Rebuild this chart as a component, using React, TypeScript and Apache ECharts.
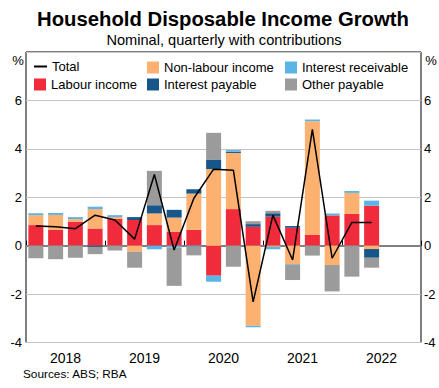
import React, { useEffect, useRef } from "react";
import * as echarts from "echarts";

const years = ["2018", "2019", "2020", "2021", "2022"];
const quarterNames = ["Q1", "Q2", "Q3", "Q4"];
const quarters = years.flatMap((y) => quarterNames.map((q) => `${y}-${q}`));

const labour = [0.85, 0.65, 0.99, 0.71, 1.10, 1.06, 0.85, 0.58, 0.65, -1.24, 1.51, 0.78, 1.20, 0.74, 0.44, 1.25, 1.31, 1.65];
const nonLabour = [0.41, 0.62, 0.11, 0.80, 0.08, -0.25, 0.48, 0.58, 1.50, 3.16, 2.32, -3.31, -0.05, -0.76, 4.70, -0.80, 0.87, -0.14];
const interestPayable = [0, 0, 0, -0.05, 0, 0.12, 0.34, 0.32, 0.18, 0.40, 0.05, 0.11, 0.14, 0.07, 0, 0, 0, -0.36];
const interestReceivable = [0.08, 0.08, 0.08, 0.10, 0.08, 0, -0.15, -0.07, -0.04, -0.25, 0.07, -0.06, -0.10, -0.03, 0.07, 0.08, 0.08, 0.21];
const otherPayable = [-0.52, -0.56, -0.50, -0.30, -0.20, -0.66, 1.42, -1.59, -0.36, 1.10, -0.87, 0.12, 0.10, -0.63, -0.41, -1.09, -1.28, -0.41];
const total = [0.81, 0.78, 0.70, 1.26, 1.06, 0.27, 2.94, -0.18, 1.96, 3.16, 3.12, -2.32, 1.26, -0.59, 4.80, -0.52, 0.96, 0.96];

const FONT = "'Liberation Sans', Arial, sans-serif";
const COLORS = {
  labour: "#EF2B3C",
  nonLabour: "#FDB171",
  payable: "#175688",
  receivable: "#5AB4E5",
  other: "#9B9B9B",
};

export default function App() {
  const ref = useRef<HTMLDivElement>(null);
  useEffect(() => {
    if (!ref.current) return;
    const chart = echarts.init(ref.current, null, { renderer: "svg" });
    const barBase = {
      type: "bar",
      stack: "c",
      barWidth: 15,
      xAxisIndex: 0,
      yAxisIndex: 0,
    };
    const legendText = { fontFamily: FONT, fontSize: 13, color: "#000" };
    const mkLegend = (name: string, left: number, top: number, isLine = false) => ({
      data: [{ name, icon: "rect" }],
      left,
      top,
      padding: 0,
      itemWidth: isLine ? 13 : 12,
      itemHeight: isLine ? 2 : 12,
      itemGap: 0,
      textStyle: legendText,
      selectedMode: false,
    });
    chart.setOption({
      animation: false,
      backgroundColor: "#fff",
      grid: {
        left: 26,
        right: 18,
        top: 52,
        bottom: 45.5,
        show: true,
        borderColor: "#000",
        borderWidth: 1,
      },
      legend: [
        mkLegend("Total", 34, 60, true),
        mkLegend("Non-labour income", 147, 61),
        mkLegend("Interest receivable", 285, 61),
        mkLegend("Labour income", 34, 78),
        mkLegend("Interest payable", 147, 78),
        mkLegend("Other payable", 285, 78),
      ],
      xAxis: [
        {
          type: "category",
          data: quarters,
          boundaryGap: true,
          axisLine: { show: false },
          axisTick: {
            show: true,
            inside: true,
            length: 5,
            interval: (i: number) => i % 4 === 0,
            lineStyle: { color: "#000" },
          },
          axisLabel: { show: false },
          splitLine: { show: false },
        },
        {
          type: "category",
          data: years,
          position: "bottom",
          axisLine: { show: false },
          axisTick: { show: false },
          axisLabel: { show: true, margin: 8, fontFamily: FONT, fontSize: 14, color: "#000" },
          splitLine: { show: false },
        },
      ],
      yAxis: [
        {
          type: "value",
          min: -4,
          max: 8,
          interval: 2,
          position: "left",
          axisLine: { show: false },
          axisTick: { show: false },
          axisLabel: {
            margin: 4,
            fontFamily: FONT,
            fontSize: 13,
            color: "#000",
            formatter: (v: number) => (v === 8 ? "" : String(v)),
          },
          splitLine: { show: true, lineStyle: { color: "#c4c4c4", width: 1 } },
        },
        {
          type: "value",
          min: -4,
          max: 8,
          interval: 2,
          position: "right",
          axisLine: { show: false },
          axisTick: { show: false },
          axisLabel: {
            margin: 3,
            fontFamily: FONT,
            fontSize: 13,
            color: "#000",
            formatter: (v: number) => (v === 8 ? "" : String(v)),
          },
          splitLine: { show: false },
        },
      ],
      series: [
        { ...barBase, name: "Labour income", data: labour, itemStyle: { color: COLORS.labour } },
        { ...barBase, name: "Non-labour income", data: nonLabour, itemStyle: { color: COLORS.nonLabour } },
        { ...barBase, name: "Interest payable", data: interestPayable, itemStyle: { color: COLORS.payable } },
        { ...barBase, name: "Interest receivable", data: interestReceivable, itemStyle: { color: COLORS.receivable } },
        { ...barBase, name: "Other payable", data: otherPayable, itemStyle: { color: COLORS.other } },
        {
          type: "line",
          name: "Total",
          data: total,
          xAxisIndex: 0,
          yAxisIndex: 0,
          symbol: "none",
          lineStyle: { color: "#000", width: 1.5 },
          itemStyle: { color: "#000" },
          z: 5,
          markLine: {
            silent: true,
            symbol: "none",
            label: { show: false },
            lineStyle: { color: "#808080", width: 2, type: "solid" },
            data: [{ yAxis: 0 }],
            z: 1,
          },
        },
      ],
      graphic: [
        {
          type: "text",
          x: 223,
          y: 19,
          style: {
            text: "Household Disposable Income Growth",
            font: `bold 20.3px ${FONT}`,
            fill: "#000",
            textAlign: "center",
            textVerticalAlign: "middle",
          },
        },
        {
          type: "text",
          x: 224,
          y: 40,
          style: {
            text: "Nominal, quarterly with contributions",
            font: `14.6px ${FONT}`,
            fill: "#000",
            textAlign: "center",
            textVerticalAlign: "middle",
          },
        },
        {
          type: "text",
          x: 18,
          y: 60,
          style: { text: "%", font: `13px ${FONT}`, fill: "#000", textAlign: "center", textVerticalAlign: "middle" },
        },
        {
          type: "text",
          x: 431,
          y: 60,
          style: { text: "%", font: `13px ${FONT}`, fill: "#000", textAlign: "center", textVerticalAlign: "middle" },
        },
        {
          type: "text",
          x: 23,
          y: 374,
          style: { text: "Sources: ABS; RBA", font: `11.8px ${FONT}`, fill: "#000", textAlign: "left", textVerticalAlign: "middle" },
        },
      ],
    });
    return () => chart.dispose();
  }, []);
  return (
    <div
      ref={ref}
      style={{ position: "absolute", left: 0, top: 0, width: 439, height: 388 }}
    />
  );
}
